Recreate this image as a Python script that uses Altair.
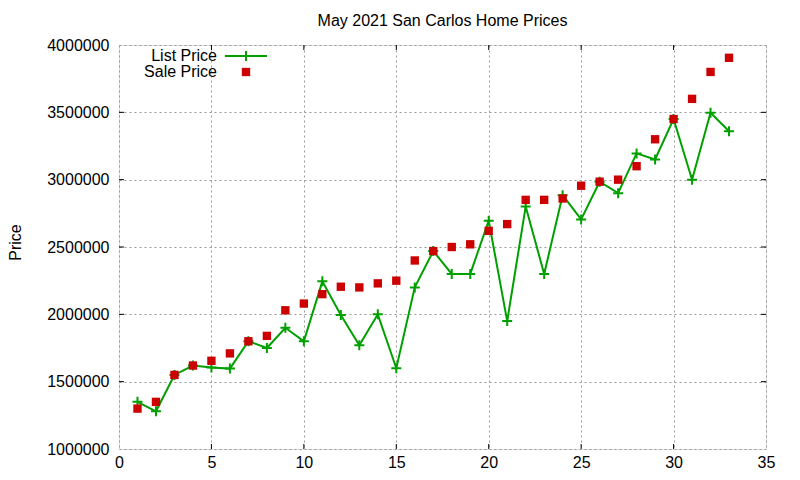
import altair as alt
import pandas as pd

day = list(range(1, 34))
list_price = [1350000, 1280000, 1550000, 1620000, 1605000, 1597000, 1800000, 1750000,
              1900000, 1800000, 2245000, 1995000, 1770000, 2000000, 1600000, 2200000,
              2470000, 2300000, 2300000, 2695000, 1950000, 2800000, 2300000, 2885000,
              2705000, 2985000, 2900000, 3195000, 3150000, 3450000, 3000000, 3497000,
              3360000]
sale_price = [1300000, 1350000, 1550000, 1620000, 1655000, 1710000, 1800000, 1840000,
              2030000, 2080000, 2150000, 2205000, 2200000, 2230000, 2250000, 2400000,
              2470000, 2500000, 2520000, 2620000, 2670000, 2850000, 2850000, 2860000,
              2955000, 2985000, 3000000, 3100000, 3300000, 3450000, 3600000, 3800000,
              3905000]
x_ticks = [0, 5, 10, 15, 20, 25, 30, 35]
y_ticks = [1000000, 1500000, 2000000, 2500000, 3000000, 3500000, 4000000]

W, H = 647, 404
FONT = "Liberation Sans"
GREEN = "#00a000"
RED = "#cc0000"
PLUS = "M-1,0L1,0M0,-1L0,1"

df = pd.DataFrame({"day": day, "list": list_price, "sale": sale_price})
xt = pd.DataFrame({"t": x_ticks[1:-1]})
yt = pd.DataFrame({"t": y_ticks[1:-1]})

xscale = alt.Scale(domain=[0, 35], nice=False, zero=False)
yscale = alt.Scale(domain=[1000000, 4000000], nice=False, zero=False)

xaxis = alt.Axis(values=x_ticks, grid=True, gridDash=[2, 3], gridColor="#999999",
                 gridOpacity=1, tickSize=0, domain=False, labelFontSize=16,
                 labelFont=FONT, labelColor="black", labelPadding=5, title=None,
                 labelFlush=False)
yaxis = alt.Axis(values=y_ticks, grid=True, gridDash=[2, 3], gridColor="#999999",
                 gridOpacity=1, tickSize=0, domain=False, labelFontSize=16,
                 labelFont=FONT, labelColor="black", labelPadding=10, format="d",
                 title="Price", titleFont=FONT, titleFontSize=16, titleFontWeight="normal",
                 titleColor="black", titleX=-99, titleY=197, titleAngle=270,
                 titleAlign="center", titleBaseline="alphabetic", labelFlush=False)

base = alt.Chart(df)

line = base.mark_line(color=GREEN, strokeWidth=2).encode(
    x=alt.X("day:Q", scale=xscale, axis=xaxis),
    y=alt.Y("list:Q", scale=yscale, axis=yaxis),
)
pluses = base.mark_point(shape=PLUS, size=100, strokeWidth=2, color=GREEN,
                         filled=False, opacity=1).encode(
    x=alt.X("day:Q", scale=xscale), y=alt.Y("list:Q", scale=yscale))
squares = base.mark_square(size=70, color=RED, opacity=1).encode(
    x=alt.X("day:Q", scale=xscale), y=alt.Y("sale:Q", scale=yscale))

tick_len = 5
bt = alt.Chart(xt).mark_rule(color="black", strokeWidth=1).encode(
    x=alt.X("t:Q", scale=xscale), y=alt.value(H), y2=alt.value(H - tick_len))
tt = alt.Chart(xt).mark_rule(color="black", strokeWidth=1).encode(
    x=alt.X("t:Q", scale=xscale), y=alt.value(0), y2=alt.value(tick_len))
lt = alt.Chart(yt).mark_rule(color="black", strokeWidth=1).encode(
    y=alt.Y("t:Q", scale=yscale), x=alt.value(0), x2=alt.value(tick_len))
rt = alt.Chart(yt).mark_rule(color="black", strokeWidth=1).encode(
    y=alt.Y("t:Q", scale=yscale), x=alt.value(W), x2=alt.value(W - tick_len))

leg_df = pd.DataFrame({"label": ["List Price", "Sale Price"], "row": [0, 1]})
leg_text1 = alt.Chart(leg_df.iloc[[0]]).mark_text(
    align="right", baseline="middle", fontSize=16, font=FONT, color="black").encode(
    text="label:N", x=alt.value(98), y=alt.value(11))
leg_text2 = alt.Chart(leg_df.iloc[[1]]).mark_text(
    align="right", baseline="middle", fontSize=16, font=FONT, color="black").encode(
    text="label:N", x=alt.value(98), y=alt.value(27))
leg_line = alt.Chart(leg_df.iloc[[0]]).mark_rule(color=GREEN, strokeWidth=2).encode(
    x=alt.value(106), x2=alt.value(148), y=alt.value(11))
leg_plus = alt.Chart(leg_df.iloc[[0]]).mark_point(
    shape=PLUS, size=100, strokeWidth=2, color=GREEN, filled=False, opacity=1).encode(
    x=alt.value(127), y=alt.value(11))
leg_sq = alt.Chart(leg_df.iloc[[1]]).mark_square(size=70, color=RED, opacity=1).encode(
    x=alt.value(127), y=alt.value(27))

chart = alt.layer(line, pluses, squares, bt, tt, lt, rt,
                  leg_text1, leg_text2, leg_line, leg_plus, leg_sq).properties(
    width=W, height=H,
    title=alt.TitleParams("May 2021 San Carlos Home Prices", font=FONT, fontSize=16,
                          fontWeight="normal", color="black", anchor="middle",
                          offset=8),
    padding={"left": 111, "top": 37, "right": 26, "bottom": 23},
    autosize=alt.AutoSizeParams(type="none"),
).configure_view(stroke="black", strokeWidth=1).configure(background="white")

chart.save("out.html", embed_options={"renderer": "svg", "actions": False})
